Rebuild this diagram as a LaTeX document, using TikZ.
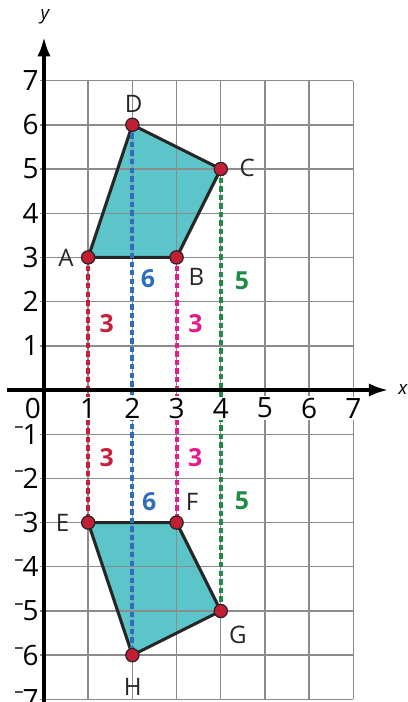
\documentclass[tikz,border=0pt]{standalone}
\usepackage{fontspec}
\setmainfont{Open Sans}
\usetikzlibrary{arrows.meta}
\definecolor{tealfill}{HTML}{5BC5CA}
\definecolor{ptred}{HTML}{C41E35}
\definecolor{dred}{HTML}{C8203A}
\definecolor{dblue}{HTML}{2F6EBA}
\definecolor{dmag}{HTML}{E8198B}
\definecolor{dgreen}{HTML}{1E8C45}
\definecolor{gridgray}{HTML}{8C8C8C}
\newcommand\ngsign{\raisebox{0.42em}{\fontsize{12}{12}\selectfont –}\kern-0.04em}
\tikzset{
  gridline/.style={draw=gridgray, line width=0.9pt},
  axisline/.style={line width=2.6pt, -{Latex[length=0.45cm,width=0.3cm]}},
  polyfill/.style={fill=tealfill},
  polyedge/.style={draw=black!85, line width=2pt, line join=round},
  dashln/.style={line width=2.5pt, dash pattern=on 3.5pt off 2pt},
  pt/.style={circle, fill=ptred, draw=black!85, line width=0.8pt, minimum size=0.3cm, inner sep=0pt},
  ticklab/.style={font=\fontsize{18}{18}\selectfont, inner sep=1pt},
  ptlab/.style={font=\fontsize{15.5}{15.5}\selectfont, text=black!85, inner sep=0pt},
  numlab/.style={font=\fontsize{16}{16}\selectfont\bfseries, inner sep=0pt},
  axlab/.style={font=\fontsize{12}{12}\selectfont\itshape, inner sep=0pt}
}
\begin{document}
\begin{tikzpicture}
\useasboundingbox (-0.995,-7.059) rectangle (8.235,8.824);
\coordinate (A) at (1,3);
\coordinate (B) at (3,3);
\coordinate (C) at (4,5);
\coordinate (D) at (2,6);
\coordinate (E) at (1,-3);
\coordinate (F) at (3,-3);
\coordinate (G) at (4,-5);
\coordinate (H) at (2,-6);
% fills
\fill[polyfill] (A) -- (B) -- (C) -- (D) -- cycle;
\fill[polyfill] (E) -- (F) -- (G) -- (H) -- cycle;
% grid
\foreach \i in {1,...,7} \draw[gridline] (\i,-7) -- (\i,7);
\foreach \j in {-7,...,7} \draw[gridline] (-0.1,\j) -- (7,\j);
% outlines
\draw[polyedge] (A) -- (B) -- (C) -- (D) -- cycle;
\draw[polyedge] (E) -- (F) -- (G) -- (H) -- cycle;
% dashed connectors
\draw[dashln, dred] (A) -- (E);
\draw[dashln, dblue] (D) -- (H);
\draw[dashln, dmag] (B) -- (F);
\draw[dashln, dgreen] (C) -- (G);
% axes
\coordinate (xs) at (-0.84,0);
\coordinate (xe) at (7.8,0);
\coordinate (ys) at (0,-7.1);
\coordinate (ye) at (0,8.0);
\draw[axisline] (xs) -- (xe);
\draw[axisline] (ys) -- (ye);
\node[axlab] (xl) at (8.12,0.02) {x};
\node[axlab] (yl) at (0.02,8.44) {y};
% points
\foreach \p in {A,B,C,D,E,F,G,H} \node[pt] (p\p) at (\p) {};
% point labels
\node[ptlab] (lA) at (0.5,3.0) {A};
\node[ptlab] (lB) at (3.45,2.56) {B};
\node[ptlab] (lC) at (4.6,5.03) {C};
\node[ptlab] (lD) at (2.03,6.48) {D};
\node[ptlab] (lE) at (0.42,-3.0) {E};
\node[ptlab] (lF) at (3.35,-2.53) {F};
\node[ptlab] (lG) at (4.39,-5.54) {G};
\node[ptlab] (lH) at (2.01,-6.72) {H};
% distance labels
\node[numlab, text=dred] (n1) at (1.42,1.5) {3};
\node[numlab, text=dred] (n2) at (1.42,-1.53) {3};
\node[numlab, text=dmag] (n3) at (3.43,1.5) {3};
\node[numlab, text=dmag] (n4) at (3.42,-1.53) {3};
\node[numlab, text=dblue] (n5) at (2.35,2.53) {6};
\node[numlab, text=dblue] (n6) at (2.38,-2.53) {6};
\node[numlab, text=dgreen] (n7) at (4.48,2.47) {5};
\node[numlab, text=dgreen] (n8) at (4.48,-2.5) {5};
% tick labels
\node[ticklab] (t0) at (-0.25,-0.41) {0};
\foreach \i in {1,...,7} \node[ticklab, fill=white] (tx\i) at (\i,-0.41) {\i};
\foreach \i in {1,...,7} \node[ticklab, anchor=east] (ty\i) at (-0.08,\i) {\i};
\foreach \i in {1,...,7} \node[ticklab, anchor=east] (tn\i) at (-0.08,-\i) {\ngsign\i};
\end{tikzpicture}
\end{document}
